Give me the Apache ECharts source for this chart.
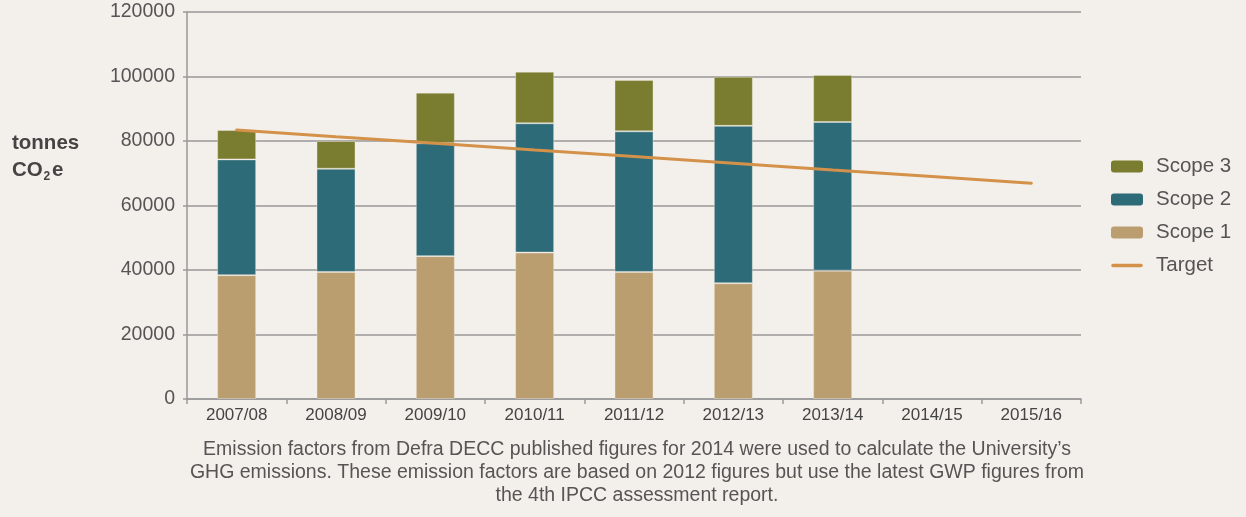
<!DOCTYPE html>
<html>
<head>
<meta charset="utf-8">
<script src="https://cdn.jsdelivr.net/npm/echarts@6/dist/echarts.min.js"></script>
<style>
html,body{margin:0;padding:0;background:#f3f0eb;}
#c{width:1246px;height:517px;}
</style>
</head>
<body>
<div id="c"></div>
<script>
var categories = ['2007/08','2008/09','2009/10','2010/11','2011/12','2012/13','2013/14','2014/15','2015/16'];
var scope1 = [38400, 39400, 44300, 45400, 39400, 35900, 39800, null, null];
var scope2 = [35900, 32000, 35000, 40100, 43600, 48800, 46100, null, null];
var scope3 = [9100, 8600, 15700, 16000, 15900, 15200, 14600, null, null];
var target = [83400, 81300, 79300, 77200, 75200, 73100, 71000, 69000, 66900];
var yTicks = [0, 20000, 40000, 60000, 80000, 100000, 120000];
var footnote = [
  'Emission factors from Defra DECC published figures for 2014 were used to calculate the University\u2019s',
  'GHG emissions. These emission factors are based on 2012 figures but use the latest GWP figures from',
  'the 4th IPCC assessment report.'
];

var FONT = '"Liberation Sans", Arial, sans-serif';
var chart = echarts.init(document.getElementById('c'), null, {renderer: 'canvas'});
var barBorder = 'rgba(240,236,226,0.4)';
function barSeries(name, data, color) {
  return {
    name: name, type: 'bar', stack: 'total', data: data, barWidth: 39,
    itemStyle: {color: color, borderColor: barBorder, borderWidth: 1},
    emphasis: {disabled: true}
  };
}
var lineIcon = 'path://M0,0 L0.001,0 L0,0.001 Z M32,12 L31.999,12 L32,11.999 Z M2,4.2 L30,4.2 A1.8,1.8 0 0 1 30,7.8 L2,7.8 A1.8,1.8 0 0 1 2,4.2 Z';
chart.setOption({
  backgroundColor: '#f3f0eb',
  animation: false,
  grid: {left: 187, right: 165, top: 12, bottom: 118},
  legend: {
    orient: 'vertical', left: 1111, top: 155, padding: 0,
    itemWidth: 32, itemHeight: 12, itemGap: 10,
    data: [
      {name: 'Scope 3', itemStyle: {borderWidth: 0}},
      {name: 'Scope 2', itemStyle: {borderWidth: 0}},
      {name: 'Scope 1', itemStyle: {borderWidth: 0}},
      {name: 'Target', icon: lineIcon, itemStyle: {color: '#d4914a', borderWidth: 0}}
    ],
    textStyle: {color: '#555', fontSize: 20.5, fontFamily: FONT, lineHeight: 23, padding: [0,0,0,8]}
  },
  xAxis: {
    type: 'category', data: categories, boundaryGap: true,
    axisLine: {lineStyle: {color: '#999', width: 1.5}},
    axisTick: {show: true, length: 5, lineStyle: {color: '#999', width: 1.5}},
    axisLabel: {color: '#444', fontSize: 17, fontFamily: FONT, margin: 8}
  },
  yAxis: {
    type: 'value', min: 0, max: 120000, interval: 20000,
    axisLine: {show: true, lineStyle: {color: '#999', width: 1.5}},
    axisTick: {show: true, length: 4, lineStyle: {color: '#999', width: 1.5}},
    axisLabel: {color: '#555', fontSize: 19.5, fontFamily: FONT, margin: 12,
      formatter: function (v) { return yTicks.indexOf(v) >= 0 ? String(v) : ''; }},
    splitLine: {show: true, lineStyle: {color: '#999', width: 1.5}}
  },
  series: [
    barSeries('Scope 1', scope1, '#bb9e70'),
    barSeries('Scope 2', scope2, '#2e6b78'),
    barSeries('Scope 3', scope3, '#7a7c2f'),
    {
      name: 'Target', type: 'line', data: target, symbol: 'none', showSymbol: false,
      lineStyle: {color: '#d4914a', width: 3, cap: 'round'},
      itemStyle: {color: '#d4914a'},
      z: 5, emphasis: {disabled: true}
    }
  ],
  graphic: [
    {type: 'text', left: 12, top: 133, style: {text: 'tonnes', fill: '#444', font: 'bold 20.5px ' + FONT}},
    {type: 'text', left: 12, top: 160, style: {text: 'CO', fill: '#444', font: 'bold 20.5px ' + FONT}},
    {type: 'text', left: 43.5, top: 171, style: {text: '2', fill: '#444', font: 'bold 12px ' + FONT}},
    {type: 'text', left: 52, top: 160, style: {text: 'e', fill: '#444', font: 'bold 20.5px ' + FONT}},
    {type: 'text', x: 637, y: 438, style: {text: footnote.join('\n'), fill: '#555', font: '19.5px ' + FONT, align: 'center', lineHeight: 23}}
  ]
});
</script>
</body>
</html>
